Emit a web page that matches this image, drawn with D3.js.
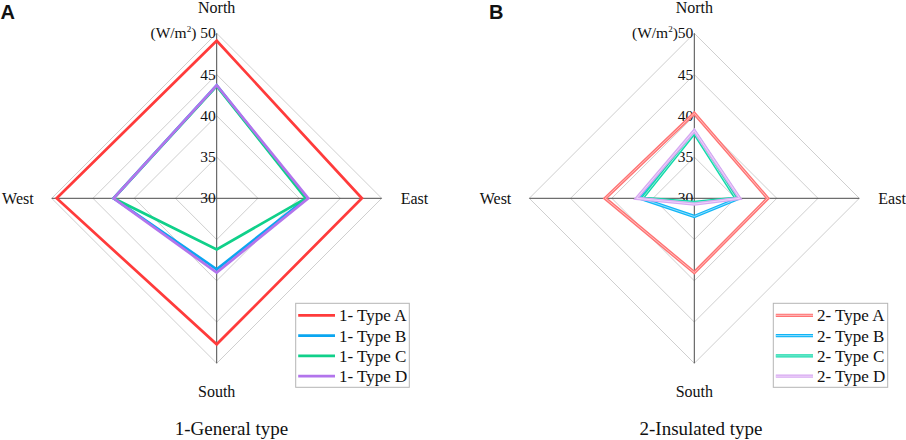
<!DOCTYPE html>
<html>
<head>
<meta charset="utf-8">
<script src="https://cdn.jsdelivr.net/npm/d3@7"></script>
<style>
  html, body { margin: 0; padding: 0; background: #fff; }
  svg { display: block; }
</style>
</head>
<body>
<svg id="chart" width="906" height="440"></svg>
<script>
// ---- data ----
const directions = ["North", "East", "South", "West"];
const ticks = [30, 35, 40, 45, 50];
const seriesNamesA = ["1- Type A", "1- Type B", "1- Type C", "1- Type D"];
const seriesNamesB = ["2- Type A", "2- Type B", "2- Type C", "2- Type D"];
// values ordered North, East, South, West (W/m2)
const generalTypeA = [49.1, 47.6, 47.7, 49.4];
const generalTypeB = [43.7, 40.9, 38.6, 42.5];
const generalTypeC = [43.6, 40.8, 36.2, 42.5];
const generalTypeD = [43.7, 41.1, 39.0, 42.5];
const insulatedTypeA = [40.3, 38.9, 39.0, 40.8];
const insulatedTypeB = [38.1, 35.4, 32.2, 36.5];
const insulatedTypeC = [37.9, 35.05, 30.5, 36.3];
const insulatedTypeD = [38.2, 35.5, 30.7, 37.0];
const panelTitles = ["1-General type", "2-Insulated type"];
const panelLetters = ["A", "B"];

const colorsA = ["#ff3b3b", "#0aa6f0", "#10d08a", "#b274ec"];
const colorsB = ["#ff7474", "#12b6f6", "#12d8aa", "#d7a8f2"];
const innerB = ["#ffc8c8", "#9fe2ff", "#a0f0dc", "#f0dcfa"];

const SERIF = "'Liberation Serif', 'Times New Roman', Times, 'DejaVu Serif', serif";

const svg = d3.select("#chart");
const R = 165;
const r = d3.scaleLinear().domain([30, 50]).range([0, R]);
const angle = d3.scalePoint().domain(directions).range([0, 3 * Math.PI / 2]); // N=0, E=90°, S=180°, W=270°

function pt(dir, v) {
  const a = angle(dir);
  return [Math.sin(a) * r(v), -Math.cos(a) * r(v)];
}

function txt(sel) {
  return sel.append("text").style("font-family", SERIF).attr("fill", "#111");
}

function drawPanel(cfg) {
  const g = svg.append("g").attr("transform", `translate(${cfg.cx},${cfg.cy})`);

  // rings
  ticks.slice(1).forEach(t => {
    g.append("path")
      .attr("d", d3.line()(directions.map(d => pt(d, t))) + "Z")
      .attr("fill", "none").attr("stroke", "#cfcfcf").attr("stroke-width", 1);
  });
  // axes
  directions.forEach(d => {
    const p = pt(d, 50);
    g.append("line").attr("x1", 0).attr("y1", 0).attr("x2", p[0]).attr("y2", p[1])
      .attr("stroke", "#4a4a4a").attr("stroke-width", 1);
  });
  // tick labels
  ticks.forEach(t => {
    const tx = txt(g)
      .attr("x", -1).attr("y", -r(t) + 5)
      .attr("text-anchor", "end").attr("font-size", 15.5);
    if (t === 50) {
      tx.append("tspan").text("(W/m");
      tx.append("tspan").text("2").attr("font-size", 9).attr("dy", -6);
      tx.append("tspan").text(")" + cfg.unitGap + "50").attr("dy", 6);
    } else {
      tx.text(t);
    }
  });
  // direction labels
  txt(g).attr("x", 0).attr("y", -185.5).attr("text-anchor", "middle").attr("font-size", 16).text("North");
  txt(g).attr("x", 0).attr("y", 198.5).attr("text-anchor", "middle").attr("font-size", 16).text("South");
  txt(g).attr("x", -183).attr("y", 6).attr("text-anchor", "end").attr("font-size", 16).text("West");
  txt(g).attr("x", 184).attr("y", 6).attr("text-anchor", "start").attr("font-size", 16).text("East");

  // series
  const line = d3.line();
  cfg.series.forEach((vals, i) => {
    const pts = directions.map((d, k) => pt(d, vals[k]));
    g.append("path").attr("d", line(pts) + "Z")
      .attr("fill", "none").attr("stroke", cfg.colors[i])
      .attr("stroke-width", cfg.double ? 3.4 : 2.7).attr("stroke-linejoin", "miter");
    if (cfg.double) {
      g.append("path").attr("d", line(pts) + "Z")
        .attr("fill", "none").attr("stroke", cfg.inner[i])
        .attr("stroke-width", 0.9).attr("stroke-linejoin", "miter");
    }
  });

  // legend
  const lg = svg.append("g").attr("transform", `translate(${cfg.lx},${cfg.ly})`);
  lg.append("rect").attr("x", 0).attr("y", 0).attr("width", cfg.lw).attr("height", 84)
    .attr("fill", "#fff").attr("stroke", "#b5b5b5").attr("stroke-width", 1);
  cfg.names.forEach((n, i) => {
    const y = 12 + i * 20.3;
    lg.append("line").attr("x1", 2.5).attr("x2", cfg.lineEnd).attr("y1", y).attr("y2", y)
      .attr("stroke", cfg.colors[i]).attr("stroke-width", cfg.double ? 3.2 : 2.7);
    if (cfg.double) {
      lg.append("line").attr("x1", 2.5).attr("x2", cfg.lineEnd).attr("y1", y).attr("y2", y)
        .attr("stroke", cfg.inner[i]).attr("stroke-width", 0.9);
    }
    txt(lg).attr("x", cfg.lineEnd + 4).attr("y", y + 6).attr("font-size", 17).text(n);
  });

  // panel title and letter
  txt(svg).attr("x", cfg.tx).attr("y", 435).attr("text-anchor", "middle")
    .attr("font-size", 19).text(cfg.title);
  svg.append("text").attr("x", cfg.letterX).attr("y", 19)
    .style("font-family", "'Liberation Sans', Arial, sans-serif").attr("fill", "#111")
    .attr("font-weight", "bold").attr("font-size", 20).text(cfg.letter);
}

drawPanel({
  cx: 216.7, cy: 198.3, unitGap: " ",
  series: [generalTypeA, generalTypeB, generalTypeC, generalTypeD],
  names: seriesNamesA, colors: colorsA, double: false,
  lx: 295.7, ly: 303.3, lw: 113.6, lineEnd: 39.3,
  tx: 231.5, title: panelTitles[0], letter: panelLetters[0], letterX: 0.5
});
drawPanel({
  cx: 694.3, cy: 198.3, unitGap: "",
  series: [insulatedTypeA, insulatedTypeB, insulatedTypeC, insulatedTypeD],
  names: seriesNamesB, colors: colorsB, inner: innerB, double: true,
  lx: 773.3, ly: 303.3, lw: 114.4, lineEnd: 39.7,
  tx: 701, title: panelTitles[1], letter: panelLetters[1], letterX: 489
});
</script>
</body>
</html>
